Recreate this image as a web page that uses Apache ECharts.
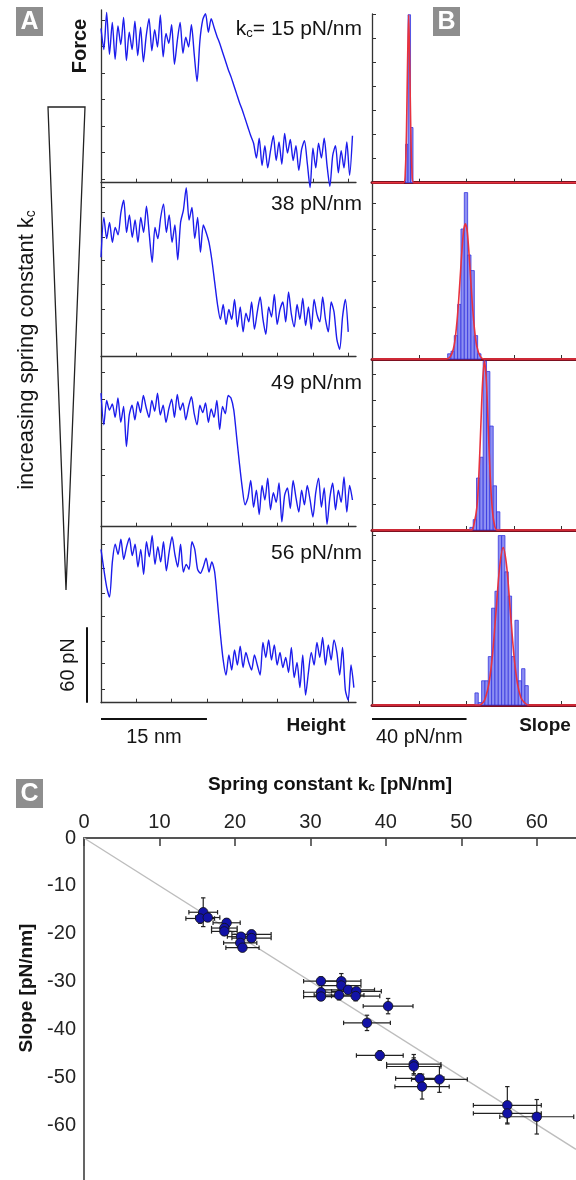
<!DOCTYPE html>
<html>
<head>
<meta charset="utf-8">
<script src="https://cdn.jsdelivr.net/npm/echarts@6.0.0/dist/echarts.min.js"></script>
<style>
html,body{margin:0;padding:0;background:#ffffff;}
#chart{width:576px;height:1180px;}
</style>
</head>
<body>
<div id="chart"></div>
<script>
// ================= DATA =================
// Panel A: force traces (pN) sampled evenly along height (nm)
const springLabels = ['15', '38', '49', '56'];
const trace15 = [125,108,138,104,130,100,127,112,134,99,
  122,108,131,103,126,98,119,133,107,124,
  110,136,102,121,113,128,96,115,130,105,
  118,110,128,104,82,115,132,137,122,
  133,126,119,113,106,99,92,86,79,72,65,59,52,45,38,32,
  20,36,14,30,12,26,38,18,33,15,
  40,24,35,18,30,10,27,34,16,-4,
  28,12,32,20,36,14,-3,22,30,8,
  26,12,33,6,38];
const trace38 = [80,112,95,108,92,104,98,116,126,100,
  114,96,110,92,112,100,121,98,76,104,
  95,112,123,100,114,92,106,78,108,118,
  136,110,120,95,112,84,106,
  100,92,78,60,42,30,
  42,26,38,30,46,24,40,20,35,28,
  44,22,36,48,30,18,40,32,50,26,
  38,44,28,52,34,24,42,30,47,25,
  40,22,46,34,28,48,30,20,44,36,
  14,6,32,46,20];
const trace49 = [110,84,104,96,101,90,106,86,99,66,
  92,100,88,103,94,108,98,90,104,95,
  110,92,100,86,97,105,90,109,96,102,
  88,99,107,93,84,100,94,102,86,97,
  90,104,80,99,93,108,106,
  96,74,52,32,18,
  24,38,16,30,10,34,22,40,14,28,
  20,36,4,26,32,15,38,24,12,30,
  18,34,22,8,28,40,16,32,2,24,
  36,14,30,20,41,12,34,22];
const trace56 = [122,106,92,84,112,126,118,130,114,124,
  131,117,126,108,122,102,128,116,133,110,
  124,112,128,105,120,132,118,108,126,104,
  110,106,128,122,106,103,108,115,104,112,
  104,80,55,34,22,
  38,26,42,30,45,28,40,32,26,38,
  30,22,48,36,50,34,46,30,40,28,
  36,24,44,20,32,12,38,6,24,40,
  30,48,36,52,30,46,34,50,40,22,
  44,10,2,30,12];
const traceStartNm = [0, 0, 0, 0];
const traceEndNm = [35.6, 35.0, 35.6, 35.8];

// Panel B: slope histograms (counts) and Gaussian fits
const hist15 = [16, 70, 23];
const hist38 = [2, 3, 9, 21, 50, 64, 40, 34, 9, 2];
const hist49 = [1, 4, 20, 28, 65, 61, 40, 17, 7];
const hist56 = [5, 1, 10, 10, 20, 40, 47, 70, 70, 55, 45, 20, 35, 10, 15, 8];
const histFirstEdge = [14.2, 32.0, 41.4, 43.55];
const histBinWidth = [1.05, 1.41, 1.41, 1.41];
const fit15 = [[0,0],[13.4,0],[14.1,5],[14.6,22],[15.0,47],[15.5,70],[16.0,47],[16.4,22],[16.9,5],[17.6,0],[86.3,0]];
const fit38 = [[0,0],[31.2,0],[33.2,1],[34.7,5],[35.7,12],[36.7,23],[37.7,37],[38.7,49],[39.5,52],[40.3,49],[41.3,37],[42.3,23],[43.3,12],[44.3,5],[45.8,1],[47.5,0],[86.3,0]];
const fit49 = [[0,0],[42.1,0],[43.1,2],[44.4,9],[45.2,21],[46.0,39],[46.8,57],[47.6,65],[48.4,57],[49.2,39],[50.0,21],[50.8,9],[51.6,3],[52.9,0],[86.3,0]];
const fit56 = [[0,0],[45.5,0],[47,1],[48,3],[49.5,9],[51,21],[52.5,39],[54,57],[55.5,65],[57,57],[58.5,39],[60,21],[61.5,9],[63,3],[64.5,1],[66,0],[86.3,0]];

// Panel C: slope vs spring constant
const kc       = [15.8,15.4,16.4,18.9,18.6,18.6,20.8,22.2,22.2,20.7,21.0,31.4,34.1,34.1,31.4,31.4,33.8,35.0,36.1,36.0,40.3,37.5,39.2,43.7,43.7,44.5,47.1,44.8,56.1,56.1,60.0];
const slope    = [-15.5,-16.8,-16.6,-17.7,-18.8,-19.5,-20.6,-20.1,-20.9,-21.9,-22.9,-29.9,-29.9,-30.8,-32.2,-33.1,-32.8,-31.7,-32.0,-33.0,-35.1,-38.6,-45.4,-47.2,-47.7,-50.2,-50.4,-51.9,-55.8,-57.5,-58.2];
const kcErr    = [1.9,1.9,1.6,1.8,1.7,1.7,1.8,2.6,2.6,2.2,2.2,2.3,2.6,2.6,2.3,2.3,3.3,3.5,3.3,3.2,3.3,3.1,3.1,3.6,3.6,3.2,3.7,3.6,4.5,4.5,4.9];
const slopeErr = [3.0,1.0,0.8,0.8,0.8,0.8,0.8,0.8,0.8,0.8,0.8,0.9,1.6,1.2,0.8,0.8,1.0,0.8,0.8,1.0,1.6,1.6,1.0,2.0,1.8,1.0,2.7,2.6,3.9,2.0,3.6];
const fitLineKc = [0, 65.2];
const fitLineSlope = [0, -65.0];

// tick values
const ticksAx = [0,5,10,15,20,25,30,35];
const ticksAy1 = [3,24.5,46,67.5,89,110.5,132];
const ticksAy2 = [0,19,38.5,58,77.5,96.5,116.5,136];
const ticksAy3 = [0,21,42.3,63.8,85,105,127];
const ticksAy4 = [11,31,49,69,87,107,126];
const ticksBx = [0,20,40,60,80];
const ticksBy = [0,10,20,30,40,50,60,70];
const ticksCx = [0,10,20,30,40,50,60];
const ticksCy = [0,-10,-20,-30,-40,-50,-60];
const scaleBarNm = 15, scaleBarPN = 60, scaleBarSlope = 40;

// ================= LAYOUT =================
const FONT = '"Liberation Sans", Arial, Helvetica, sans-serif';
const gridA = [[10,172.7],[182.7,174],[356.7,170],[526.7,176]];
const gridB = [[14,168.7],[182.7,176.3],[359,171],[530,175]];
const yMaxA = [140,140,140,140];
const yMaxB = [70.3,67.8,65.8,72.3];
const traces = [trace15, trace38, trace49, trace56];
const ticksAy = [ticksAy1, ticksAy2, ticksAy3, ticksAy4];
const hists = [hist15, hist38, hist49, hist56];
const fits = [fit15, fit38, fit49, fit56];

const grids = [], xAxes = [], yAxes = [], series = [];
const axisCol = '#333';
for (let i = 0; i < 4; i++) {
  grids.push({left: 101, top: gridA[i][0], width: 255, height: gridA[i][1]});
  xAxes.push({gridIndex: i, type: 'value', min: 0, max: 36.1,
    axisLine: {show: true, lineStyle: {color: axisCol, width: 1.3}},
    axisTick: {show: true, inside: true, length: 4, customValues: ticksAx, lineStyle: {color: axisCol, width: 1}},
    axisLabel: {show: false}, splitLine: {show: false}});
  yAxes.push({gridIndex: i, type: 'value', min: 0, max: yMaxA[i],
    axisLine: {show: true, lineStyle: {color: axisCol, width: 1.3}},
    axisTick: {show: true, inside: true, length: 4, customValues: ticksAy[i], lineStyle: {color: axisCol, width: 1}},
    axisLabel: {show: false}, splitLine: {show: false}});
}
for (let i = 0; i < 4; i++) {
  grids.push({left: 372, top: gridB[i][0], width: 204, height: gridB[i][1]});
  xAxes.push({gridIndex: 4 + i, type: 'value', min: 0, max: 86.3,
    axisLine: {show: true, lineStyle: {color: '#7d1020', width: 3}},
    axisTick: {show: true, inside: true, length: 4, customValues: ticksBx, lineStyle: {color: axisCol, width: 1}},
    axisLabel: {show: false}, splitLine: {show: false}});
  yAxes.push({gridIndex: 4 + i, type: 'value', min: 0, max: yMaxB[i],
    axisLine: {show: true, lineStyle: {color: axisCol, width: 1.3}},
    axisTick: {show: true, inside: true, length: 4, customValues: ticksBy, lineStyle: {color: axisCol, width: 1}},
    axisLabel: {show: false}, splitLine: {show: false}});
}
// Panel C grid
grids.push({left: 84, top: 838, width: 492, height: 342});
xAxes.push({gridIndex: 8, type: 'value', position: 'top', min: 0, max: 65.2,
  name: '{a|Spring constant k}{s|c}{a| [pN/nm]}', nameLocation: 'middle', nameGap: 44,
  nameTextStyle: {rich: {
    a: {fontFamily: FONT, fontSize: 19, fontWeight: 'bold', color: '#111', lineHeight: 24, verticalAlign: 'bottom'},
    s: {fontFamily: FONT, fontSize: 12, fontWeight: 'bold', color: '#111', lineHeight: 12, verticalAlign: 'bottom'}}},
  axisLine: {show: true, lineStyle: {color: '#555', width: 1.8}},
  axisTick: {show: true, inside: true, length: 8, customValues: ticksCx, lineStyle: {color: '#444', width: 1.6}},
  axisLabel: {show: true, customValues: ticksCx, fontFamily: FONT, fontSize: 20, color: '#222', margin: 6},
  splitLine: {show: false}});
yAxes.push({gridIndex: 8, type: 'value', min: -71.4, max: 0,
  axisLine: {show: true, lineStyle: {color: '#555', width: 1.8}},
  axisTick: {show: false, customValues: ticksCy},
  axisLabel: {show: true, customValues: ticksCy, fontFamily: FONT, fontSize: 20, color: '#222', margin: 8},
  splitLine: {show: false}});

// Panel A traces
for (let i = 0; i < 4; i++) {
  const vals = traces[i], n = vals.length;
  const data = vals.map((v, j) => [traceStartNm[i] + (traceEndNm[i] - traceStartNm[i]) * j / (n - 1), v]);
  series.push({type: 'line', xAxisIndex: i, yAxisIndex: i, data: data, showSymbol: false, smooth: 0.25,
    clip: false, lineStyle: {color: '#1c1cec', width: 1.4}, z: 3});
}
// Panel B histograms + fits
for (let i = 0; i < 4; i++) {
  const data = hists[i].map((c, j) => [histFirstEdge[i] + j * histBinWidth[i], histFirstEdge[i] + (j + 1) * histBinWidth[i], c]);
  series.push({type: 'custom', xAxisIndex: 4 + i, yAxisIndex: 4 + i, data: data, z: 2,
    encode: {x: [0, 1], y: 2},
    renderItem: function (params, api) {
      const p0 = api.coord([api.value(0), api.value(2)]);
      const p1 = api.coord([api.value(1), 0]);
      return {type: 'rect', shape: {x: p0[0], y: p0[1], width: p1[0] - p0[0], height: p1[1] - p0[1]},
        style: {fill: '#8d8ff2', stroke: '#3636de', lineWidth: 0.8}};
    }});
  series.push({type: 'line', xAxisIndex: 4 + i, yAxisIndex: 4 + i, data: fits[i], showSymbol: false,
    smooth: 0.3, clip: false, lineStyle: {color: '#e8323e', width: 1.6}, z: 4});
}
// Panel C fit line, error bars, points
series.push({type: 'line', xAxisIndex: 8, yAxisIndex: 8, data: fitLineKc.map((k, j) => [k, fitLineSlope[j]]),
  showSymbol: false, lineStyle: {color: '#bdbdbd', width: 1.4}, z: 2});
series.push({type: 'custom', xAxisIndex: 8, yAxisIndex: 8, z: 3,
  data: kc.map((k, j) => [k, slope[j], kcErr[j], slopeErr[j]]),
  encode: {x: 0, y: 1},
  renderItem: function (params, api) {
    const k = api.value(0), s = api.value(1), ek = api.value(2), es = api.value(3);
    const l = api.coord([k - ek, s]), r = api.coord([k + ek, s]);
    const t = api.coord([k, s + es]), b = api.coord([k, s - es]);
    const c = 2.2, st = {stroke: '#222', lineWidth: 1.2};
    return {type: 'group', children: [
      {type: 'line', shape: {x1: l[0], y1: l[1], x2: r[0], y2: r[1]}, style: st},
      {type: 'line', shape: {x1: l[0], y1: l[1] - c, x2: l[0], y2: l[1] + c}, style: st},
      {type: 'line', shape: {x1: r[0], y1: r[1] - c, x2: r[0], y2: r[1] + c}, style: st},
      {type: 'line', shape: {x1: t[0], y1: t[1], x2: b[0], y2: b[1]}, style: st},
      {type: 'line', shape: {x1: t[0] - c, y1: t[1], x2: t[0] + c, y2: t[1]}, style: st},
      {type: 'line', shape: {x1: b[0] - c, y1: b[1], x2: b[0] + c, y2: b[1]}, style: st}
    ]};
  }});
series.push({type: 'scatter', xAxisIndex: 8, yAxisIndex: 8, z: 4, symbolSize: 9.5,
  data: kc.map((k, j) => [k, slope[j]]),
  itemStyle: {color: '#1212a6', borderColor: '#111', borderWidth: 0.8, opacity: 1}});

const chart = echarts.init(document.getElementById('chart'), null, {renderer: 'canvas', width: 576, height: 1180});
chart.setOption({animation: false, backgroundColor: '#ffffff', grid: grids, xAxis: xAxes, yAxis: yAxes, series: series});

// ================= ANNOTATIONS =================
const a0 = chart.convertToPixel({gridIndex: 3}, [0, 0]);
const a15 = chart.convertToPixel({gridIndex: 3}, [scaleBarNm, 0]);
const a60 = chart.convertToPixel({gridIndex: 3}, [0, scaleBarPN]);
const b0 = chart.convertToPixel({gridIndex: 7}, [0, 0]);
const b40 = chart.convertToPixel({gridIndex: 7}, [scaleBarSlope, 0]);

function txt(x, y, text, size, bold, extra) {
  return Object.assign({type: 'text', x: x, y: y, silent: true, z: 10,
    style: {text: text, fontFamily: FONT, fontSize: size, fontWeight: bold ? 'bold' : 'normal', fill: '#151515',
      align: 'center', verticalAlign: 'middle'}}, extra || {});
}
function rtxt(x, y, text, size) {
  return {type: 'text', x: x, y: y, silent: true, z: 10,
    style: {text: text, fontFamily: FONT, fontSize: size, fill: '#151515', align: 'right', verticalAlign: 'middle'}};
}
function box(x, y, letter) {
  return [{type: 'rect', x: x, y: y, shape: {width: 27, height: 29}, style: {fill: '#8e8e8e'}, silent: true, z: 10},
    {type: 'text', x: x + 13.5, y: y + 15, silent: true, z: 11,
      style: {text: letter, fontFamily: FONT, fontSize: 25, fontWeight: 'bold', fill: '#ffffff', align: 'center', verticalAlign: 'middle'}}];
}
const sub = (big, small) => ({
  m: {fontFamily: FONT, fontSize: big, fill: '#151515', color: '#151515', lineHeight: big + 4, verticalAlign: 'bottom'},
  s: {fontFamily: FONT, fontSize: small, fill: '#151515', color: '#151515', lineHeight: small, verticalAlign: 'bottom'}
});
const graphics = [].concat(
  box(16, 7, 'A'), box(433, 7, 'B'), box(16, 779, 'C'),
  [
    txt(80, 46, 'Force', 20, true, {rotation: Math.PI / 2}),
    {type: 'polygon', silent: true, z: 10, shape: {points: [[48, 107], [85, 107], [66, 590]]},
      style: {fill: 'none', stroke: '#222', lineWidth: 1.3}},
    {type: 'text', x: 25, y: 350, rotation: Math.PI / 2, silent: true, z: 10,
      style: {text: '{m|increasing spring constant k}{s|c}', rich: sub(22, 14), align: 'center', verticalAlign: 'middle'}},
    {type: 'text', x: 362, y: 27, silent: true, z: 10,
      style: {text: '{m|k}{s|c}{m|= ' + springLabels[0] + ' pN/nm}', rich: sub(21, 13), align: 'right', verticalAlign: 'middle'}},
    rtxt(362, 204, springLabels[1] + ' pN/nm', 21),
    rtxt(362, 383, springLabels[2] + ' pN/nm', 21),
    rtxt(362, 553, springLabels[3] + ' pN/nm', 21),
    // 60 pN scale bar
    {type: 'line', silent: true, z: 10, shape: {x1: 87, y1: a0[1], x2: 87, y2: a60[1]}, style: {stroke: '#111', lineWidth: 2}},
    txt(68, (a0[1] + a60[1]) / 2, '60 pN', 20, false, {rotation: Math.PI / 2}),
    // 15 nm scale bar
    {type: 'line', silent: true, z: 10, shape: {x1: a0[0], y1: 719, x2: a15[0], y2: 719}, style: {stroke: '#111', lineWidth: 2}},
    txt((a0[0] + a15[0]) / 2, 737, scaleBarNm + ' nm', 20, false),
    txt(316, 726, 'Height', 19, true),
    // 40 pN/nm scale bar
    {type: 'line', silent: true, z: 10, shape: {x1: b0[0], y1: 719, x2: b40[0], y2: 719}, style: {stroke: '#111', lineWidth: 2}},
    txt((b0[0] + b40[0]) / 2, 737, scaleBarSlope + ' pN/nm', 20, false),
    txt(545, 726, 'Slope', 19, true),
    // Panel C y-axis title
    txt(27, 988, 'Slope [pN/nm]', 19, true, {rotation: Math.PI / 2})
  ]
);
chart.setOption({graphic: graphics});
</script>
</body>
</html>
